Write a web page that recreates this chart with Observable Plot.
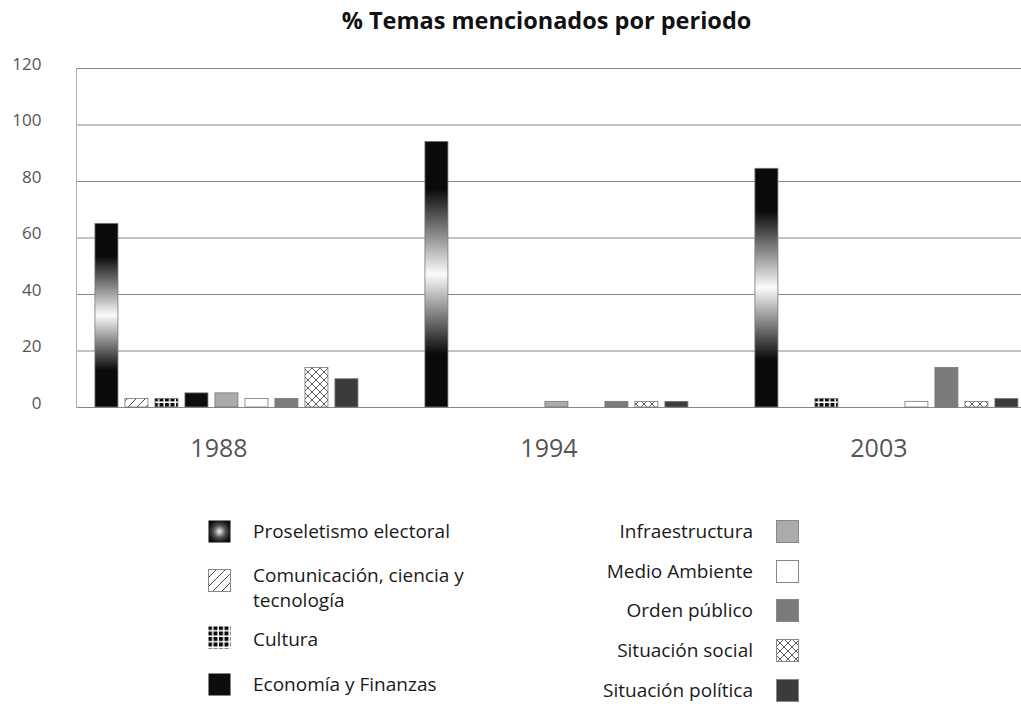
<!DOCTYPE html>
<html>
<head>
<meta charset="utf-8">
<script src="https://cdn.jsdelivr.net/npm/d3@7"></script>
<script src="https://cdn.jsdelivr.net/npm/@observablehq/plot@0.6"></script>
<style>
  html, body { margin: 0; padding: 0; background: #fff; }
  body { width: 1021px; height: 704px; position: relative; font-family: "Open Sans", "Noto Sans", sans-serif; overflow: hidden; }
  #title { height: 40px; line-height: 40px; text-align: center; font-weight: bold; font-size: 23.5px; color: #111; padding-left: 72px; }
  #defs { position: absolute; width: 0; height: 0; }
  .lg-text { position: absolute; font-size: 19px; line-height: 25px; color: #1a1a1a; }
  .lg-sw { position: absolute; width: 23px; height: 23px; }
</style>
</head>
<body>
<svg id="defs" aria-hidden="true">
  <defs>
    <linearGradient id="gradProsel" x1="0" y1="0" x2="0" y2="1">
      <stop offset="0" stop-color="#0a0a0a"/>
      <stop offset="0.18" stop-color="#0a0a0a"/>
      <stop offset="0.5" stop-color="#fbfbfb"/>
      <stop offset="0.8" stop-color="#0a0a0a"/>
      <stop offset="1" stop-color="#0a0a0a"/>
    </linearGradient>
    <radialGradient id="gradLegend" cx="0.5" cy="0.5" r="0.6">
      <stop offset="0" stop-color="#f4f4f4"/>
      <stop offset="0.45" stop-color="#555"/>
      <stop offset="0.85" stop-color="#111"/>
      <stop offset="1" stop-color="#0a0a0a"/>
    </radialGradient>
    <pattern id="patDiag" patternUnits="userSpaceOnUse" width="9" height="9">
      <rect width="9" height="9" fill="#fff"/>
      <path d="M-2,2 l4,-4 M0,9 l9,-9 M7,11 l4,-4" stroke="#333" stroke-width="0.9"/>
    </pattern>
    <pattern id="patGrid" patternUnits="userSpaceOnUse" width="5.5" height="5.5">
      <rect width="5.5" height="5.5" fill="#fff"/>
      <rect width="4" height="4" fill="#0a0a0a"/>
    </pattern>
    <pattern id="patCross" patternUnits="userSpaceOnUse" width="8" height="8">
      <rect width="8" height="8" fill="#fff"/>
      <path d="M0,0 L8,8 M0,8 L8,0" stroke="#333" stroke-width="0.8"/>
    </pattern>
  </defs>
</svg>
<div id="title">% Temas mencionados por periodo</div>
<div id="chart"></div>
<div id="legend"></div>
<script>
// ---- data ----
const years = ["1988", "1994", "2003"];
const categories = [
  "Proseletismo electoral",
  "Comunicación, ciencia y tecnología",
  "Cultura",
  "Economía y Finanzas",
  "Infraestructura",
  "Medio Ambiente",
  "Orden público",
  "Situación social",
  "Situación política"
];
const values1988 = [65, 3, 3, 5, 5, 3, 3, 14, 10];
const values1994 = [94, 0, 0, 0, 2, 0, 2, 2, 2];
const values2003 = [84.5, 0, 3, 0, 0, 2, 14, 2, 3];
const yTicks = [0, 20, 40, 60, 80, 100, 120];

// ---- styles ----
const barFills = ["url(#gradProsel)", "url(#patDiag)", "url(#patGrid)", "#0d0d0d", "#ababab", "#ffffff", "#7b7b7b", "url(#patCross)", "#3b3b3b"];
const legendFills = ["url(#gradLegend)", "url(#patDiag)", "url(#patGrid)", "#0d0d0d", "#ababab", "#ffffff", "#7b7b7b", "url(#patCross)", "#3b3b3b"];

// ---- table ----
const series = [values1988, values1994, values2003];
const rows = years.flatMap((yr, i) => categories.map((c, j) => ({year: yr, cat: c, value: series[i][j], key: yr + "|" + c})));
const xDomain = [];
years.forEach((yr, i) => {
  if (i > 0) xDomain.push("gapA" + i, "gapB" + i);
  categories.forEach(c => xDomain.push(yr + "|" + c));
});
const midKeys = years.map(yr => yr + "|" + categories[4]);

const chart = Plot.plot({
  width: 1021,
  height: 432,
  marginTop: 28,
  marginBottom: 65,
  marginLeft: 76,
  marginRight: 0,
  style: {fontFamily: "'Open Sans', 'Noto Sans', sans-serif", color: "#555", background: "#fff"},
  x: {domain: xDomain, paddingInner: 0.233, paddingOuter: 0.367, align: 0.86, axis: null},
  y: {domain: [0, 120], axis: null},
  color: {type: "ordinal", domain: categories, range: barFills},
  marks: [
    Plot.gridY(yTicks, {stroke: "#888", strokeOpacity: 1, strokeWidth: 1}),
    Plot.frame({anchor: "left", stroke: "#b0b0b0"}),
    Plot.axisY(yTicks, {tickSize: 0, tickPadding: 35, fontSize: 17, fill: "#555", dy: -4, label: null}),
    Plot.axisX(midKeys, {tickSize: 0, tickPadding: 32, fontSize: 25, fill: "#555", dx: -8, label: null, tickFormat: k => k.split("|")[0]}),
    Plot.barY(rows, {filter: d => d.value > 0, x: "key", y: "value", fill: "cat", stroke: "#777", strokeWidth: 0.8})
  ]
});
document.getElementById("chart").appendChild(chart);

// ---- legend ----
const legend = document.getElementById("legend");
const leftCenters = [531, 580, 639, 684];
const rightCenters = [531, 571, 610, 650, 690];
categories.forEach((c, j) => {
  const sw = document.createElementNS("http://www.w3.org/2000/svg", "svg");
  sw.setAttribute("class", "lg-sw");
  sw.setAttribute("width", 23); sw.setAttribute("height", 23);
  const r = document.createElementNS("http://www.w3.org/2000/svg", "rect");
  r.setAttribute("x", 0.5); r.setAttribute("y", 0.5); r.setAttribute("width", 22); r.setAttribute("height", 22);
  r.setAttribute("fill", legendFills[j]);
  if (j !== 2 && j !== 0 && j !== 3) { r.setAttribute("stroke", "#888"); r.setAttribute("stroke-width", 1); }
  sw.appendChild(r);
  const t = document.createElement("div");
  t.className = "lg-text";
  t.textContent = c;
  if (j < 4) {
    const cy = leftCenters[j];
    sw.style.left = "208px"; sw.style.top = ((j === 2 ? 637 : cy) - 11) + "px";
    t.style.left = "253px";
    t.style.width = "245px";
    t.style.top = (j === 1 ? cy - 17 : cy - 12) + "px";
  } else {
    const cy = rightCenters[j - 4];
    sw.style.left = "776px"; sw.style.top = (cy - 11) + "px";
    t.style.right = (1021 - 753) + "px";
    t.style.top = (cy - 12) + "px";
    t.style.whiteSpace = "nowrap";
  }
  legend.appendChild(sw);
  legend.appendChild(t);
});
</script>
</body>
</html>
